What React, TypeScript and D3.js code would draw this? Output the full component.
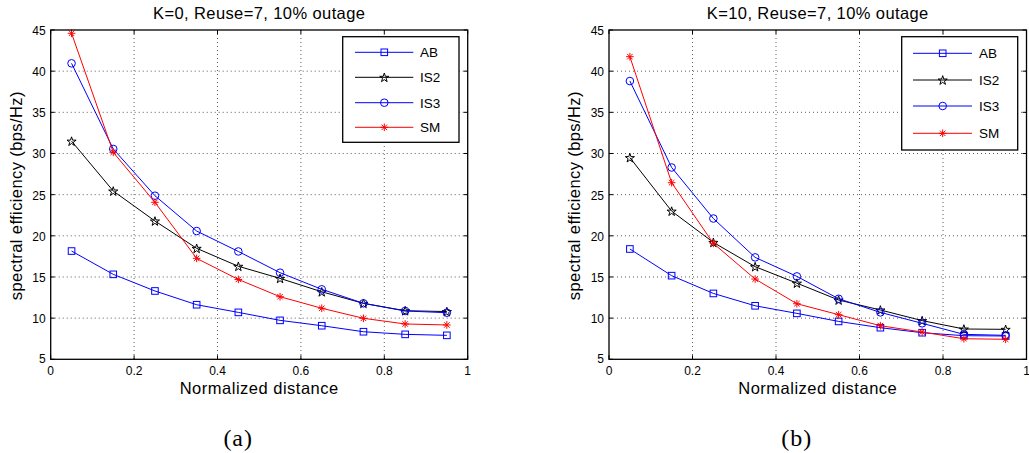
import React from "react";
import * as d3 from "d3";

const xValues = [0.05, 0.15, 0.25, 0.35, 0.45, 0.55, 0.65, 0.75, 0.85, 0.95];
const xTicks = [0, 0.2, 0.4, 0.6, 0.8, 1];
const yTicks = [5, 10, 15, 20, 25, 30, 35, 40, 45];
const seriesNames = ["AB", "IS2", "IS3", "SM"];

const k0AB = [18.15, 15.32, 13.3, 11.63, 10.7, 9.73, 9.08, 8.35, 8.03, 7.91];
const k0IS2 = [31.5, 25.44, 21.8, 18.48, 16.3, 14.83, 13.2, 11.8, 10.9, 10.8];
const k0IS3 = [40.95, 30.55, 24.87, 20.58, 18.1, 15.52, 13.5, 11.8, 10.87, 10.66];
const k0SM = [44.6, 30.14, 24.07, 17.26, 14.7, 12.6, 11.2, 9.98, 9.29, 9.17];

const k10AB = [18.4, 15.16, 13.0, 11.5, 10.58, 9.6, 8.84, 8.23, 7.87, 7.83];
const k10IS2 = [29.5, 23.0, 19.2, 16.25, 14.25, 12.2, 10.99, 9.7, 8.68, 8.64];
const k10IS3 = [38.8, 28.3, 22.1, 17.38, 15.07, 12.35, 10.7, 9.37, 8.03, 7.91];
const k10SM = [41.76, 26.45, 19.08, 14.75, 11.75, 10.42, 9.08, 8.31, 7.5, 7.43];

const colors: Record<string, string> = { AB: "#0000ff", IS2: "#000000", IS3: "#0000ff", SM: "#ff0000" };
const SANS = "'Liberation Sans', Arial, Helvetica, sans-serif";
const SERIF = "'Liberation Serif', 'Times New Roman', serif";

function Marker({ type, x, y, color }: { type: string; x: number; y: number; color: string }) {
  if (type === "AB") {
    return <rect x={x - 3.3} y={y - 3.3} width={6.6} height={6.6} fill="none" stroke={color} strokeWidth={1} />;
  }
  if (type === "IS3") {
    return <circle cx={x} cy={y} r={3.8} fill="none" stroke={color} strokeWidth={1} />;
  }
  if (type === "IS2") {
    const p = d3.symbol(d3.symbolStar, 26)();
    return <path d={p || ""} transform={`translate(${x},${y + 0.5})`} fill="none" stroke={color} strokeWidth={1} />;
  }
  const r = 3.8;
  const d2 = r * 0.72;
  const d = `M${x - r},${y}L${x + r},${y}M${x},${y - r}L${x},${y + r}M${x - d2},${y - d2}L${x + d2},${y + d2}M${x - d2},${y + d2}L${x + d2},${y - d2}`;
  return <path d={d} stroke={color} strokeWidth={1} fill="none" />;
}

function Panel({
  left, right, title, data, legend, label,
}: {
  left: number; right: number; title: string; data: number[][];
  legend: { x0: number; x1: number; y0: number; y1: number; rows: number[]; lx0: number; lx1: number; mx: number; tx: number };
  label: string;
}) {
  const top = 30;
  const bottom = 359.3;
  const x = d3.scaleLinear().domain([0, 1]).range([left, right]);
  const y = d3.scaleLinear().domain([5, 45]).range([bottom, top]);
  const line = d3.line<number>().x((_, i) => x(xValues[i])).y((v) => y(v));
  const tickLen = 4;
  const cx = (left + right) / 2;
  return (
    <g>
      {xTicks.slice(1, -1).map((t) => (
        <line key={"gx" + t} x1={x(t)} x2={x(t)} y1={top} y2={bottom} stroke="#333" strokeWidth={0.8} strokeDasharray="1,3" />
      ))}
      {yTicks.slice(1, -1).map((t) => (
        <line key={"gy" + t} x1={left} x2={right} y1={y(t)} y2={y(t)} stroke="#333" strokeWidth={0.8} strokeDasharray="1,3" />
      ))}
      {xTicks.map((t) => (
        <g key={"tx" + t}>
          <line x1={x(t)} x2={x(t)} y1={bottom} y2={bottom - tickLen} stroke="#000" />
          <line x1={x(t)} x2={x(t)} y1={top} y2={top + tickLen} stroke="#000" />
          <text x={x(t)} y={bottom + 16} fontSize={12} fontFamily={SANS} textAnchor="middle">{String(t)}</text>
        </g>
      ))}
      {yTicks.map((t) => (
        <g key={"ty" + t}>
          <line x1={left} x2={left + tickLen} y1={y(t)} y2={y(t)} stroke="#000" />
          <line x1={right} x2={right - tickLen} y1={y(t)} y2={y(t)} stroke="#000" />
          <text x={left - 5} y={y(t) + (t === 5 ? 3.5 : 5)} fontSize={12} fontFamily={SANS} textAnchor="end">{String(t)}</text>
        </g>
      ))}
      {seriesNames.map((name, si) => (
        <g key={name}>
          <path d={line(data[si]) || ""} fill="none" stroke={colors[name]} strokeWidth={1} />
          {data[si].map((v, i) => (
            <Marker key={i} type={name} x={x(xValues[i])} y={y(v)} color={colors[name]} />
          ))}
        </g>
      ))}
      <rect x={left} y={top} width={right - left} height={bottom - top} fill="none" stroke="#000" strokeWidth={1.3} />
      <rect x={legend.x0} y={legend.y0} width={legend.x1 - legend.x0} height={legend.y1 - legend.y0} fill="#fff" stroke="#000" strokeWidth={1.3} />
      {seriesNames.map((name, si) => (
        <g key={"lg" + name}>
          <line x1={legend.lx0} x2={legend.lx1} y1={legend.rows[si]} y2={legend.rows[si]} stroke={colors[name]} strokeWidth={1} />
          <Marker type={name} x={legend.mx} y={legend.rows[si]} color={colors[name]} />
          <text x={legend.tx} y={legend.rows[si] + 5} fontSize={13.5} fontFamily={SANS}>{name}</text>
        </g>
      ))}
      <text x={cx} y={19} fontSize={16.5} letterSpacing={0.4} fontFamily={SANS} textAnchor="middle">{title}</text>
      <text x={cx} y={394} fontSize={16.5} letterSpacing={0.5} fontFamily={SANS} textAnchor="middle">Normalized distance</text>
      <text transform={`translate(${left - 29},${(top + bottom) / 2 + 1}) rotate(-90)`} fontSize={16.5} letterSpacing={0.4} fontFamily={SANS} textAnchor="middle">spectral efficiency (bps/Hz)</text>
      <text x={cx - 21} y={446} fontSize={24} letterSpacing={1} fontFamily={SERIF} textAnchor="middle">{label}</text>
    </g>
  );
}

export default function App() {
  return (
    <svg width={1029} height={453} style={{ position: "absolute", left: 0, top: 0, background: "#fff" }}>
      <rect width={1029} height={453} fill="#fff" />
      <Panel
        left={50.7}
        right={467.7}
        title="K=0, Reuse=7, 10% outage"
        data={[k0AB, k0IS2, k0IS3, k0SM]}
        legend={{ x0: 342.7, x1: 459, y0: 36.7, y1: 142.3, rows: [52.3, 77.3, 102.7, 127.3], lx0: 355, lx1: 413.3, mx: 384.3, tx: 420 }}
        label="(a)"
      />
      <Panel
        left={609}
        right={1026.5}
        title="K=10, Reuse=7, 10% outage"
        data={[k10AB, k10IS2, k10IS3, k10SM]}
        legend={{ x0: 901.7, x1: 1017.7, y0: 36.7, y1: 150, rows: [53.3, 80, 106, 133.3], lx0: 913, lx1: 972, mx: 942.7, tx: 979 }}
        label="(b)"
      />
    </svg>
  );
}
